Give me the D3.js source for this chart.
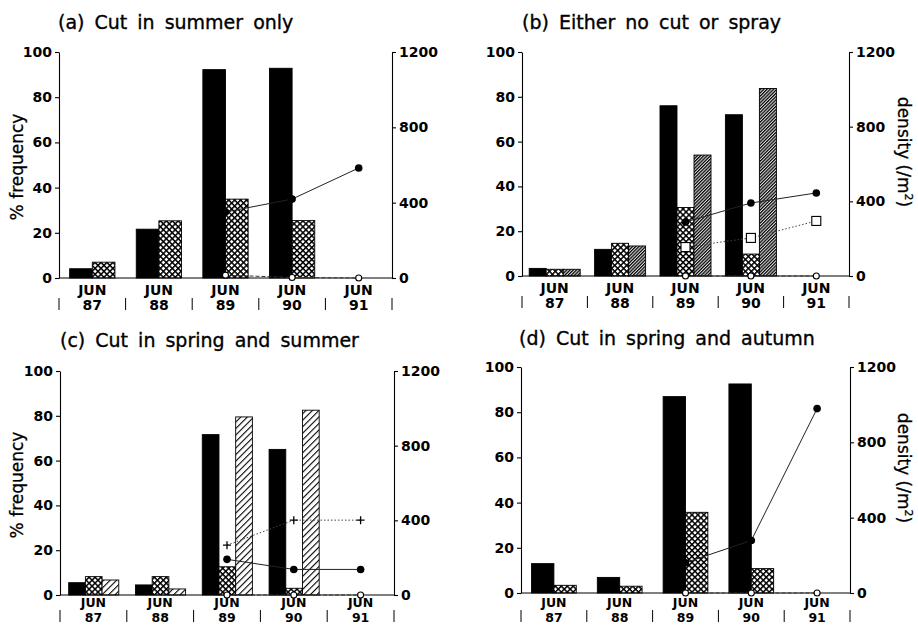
<!DOCTYPE html>
<html><head><meta charset="utf-8">
<script src="https://cdn.jsdelivr.net/npm/d3@7"></script>
<style>
html,body{margin:0;padding:0;background:#fff;}
svg{display:block;}
text{font-family:"DejaVu Sans",sans-serif;fill:#000;}
</style></head>
<body>
<svg id="chart" width="918" height="627"></svg>
<script>
// ---------- data ----------
const years = ["87","88","89","90","91"];
const monthLabel = "JUN";
const freqTicks = [0,20,40,60,80,100];
const densTicks = [0,400,800,1200];

const titles = ["(a) Cut in summer only","(b) Either no cut or spray","(c) Cut in spring and summer","(d) Cut in spring and autumn"];
const leftLabel = "% frequency";
const rightLabel = "density (/m";

// (a)
const aBlack = [4.1, 21.6, 92.2, 92.8, null];
const aCross = [7.0, 25.3, 34.9, 25.4, null];
const aDensFilled = [null, null, 350, 419, 584];
const aDensOpen = [null, null, 15, 3, 0];
// (b)
const bBlack = [3.4, 11.9, 76.0, 72.0, null];
const bCross = [3.0, 14.6, 30.6, 9.8, null];
const bHatch = [3.0, 13.4, 54.0, 83.7, null];
const bDensFilled = [null, null, 289, 391, 445];
const bDensSquare = [null, null, 155, 204, 295];
const bDensOpen = [null, null, 0, 0, 0];
// (c)
const cBlack = [5.5, 4.5, 71.6, 65.0, null];
const cCross = [8.2, 8.2, 12.6, 3.0, null];
const cHatch = [6.7, 2.7, 79.5, 82.5, null];
const cDensFilled = [null, null, 191, 137, 137];
const cDensPlus = [null, null, 267, 401, 401];
const cDensOpen = [null, null, 0, 0, 0];
// (d)
const dBlack = [13.0, 6.9, 86.9, 92.5, null];
const dCross = [3.4, 3.0, 35.7, 10.8, null];
const dDensFilled = [null, null, 161, 279, 979];
const dDensOpen = [null, null, 0, 0, 0];

// ---------- layout ----------
const svg = d3.select("#chart");
svg.append("rect").attr("width",918).attr("height",627).attr("fill","#fff");

const defs = svg.append("defs");
const pc = defs.append("pattern").attr("id","cross").attr("patternUnits","userSpaceOnUse")
  .attr("width",4.2).attr("height",4.2).attr("patternTransform","rotate(45)");
pc.append("rect").attr("width",4.2).attr("height",4.2).attr("fill","#fff");
pc.append("rect").attr("width",1.5).attr("height",4.2).attr("fill","#000");
pc.append("rect").attr("width",4.2).attr("height",1.5).attr("fill","#000");
const pd = defs.append("pattern").attr("id","hatchDense").attr("patternUnits","userSpaceOnUse")
  .attr("width",2.3).attr("height",2.3).attr("patternTransform","rotate(45)");
pd.append("rect").attr("width",2.3).attr("height",2.3).attr("fill","#d8d8d8");
pd.append("rect").attr("width",1.2).attr("height",2.3).attr("fill","#000");
const ps = defs.append("pattern").attr("id","hatchSparse").attr("patternUnits","userSpaceOnUse")
  .attr("width",4.6).attr("height",4.6).attr("patternTransform","rotate(45)");
ps.append("rect").attr("width",4.6).attr("height",4.6).attr("fill","#fff");
ps.append("rect").attr("width",1.1).attr("height",4.6).attr("fill","#000");

const fills = {black:"#000", cross:"url(#cross)", hatchDense:"url(#hatchDense)", hatchSparse:"url(#hatchSparse)"};

const panels = [
  {title:titles[0], box:{l:59,r:392,t:52,b:278}, titleX:58, titleY:29, leftLab:true, rightLab:false,
   bars:[["black",aBlack],["cross",aCross]], inner:[0.16,0.84],
   lines:[{v:aDensFilled,type:"filled"},{v:aDensOpen,type:"open"}]},
  {title:titles[1], box:{l:522,r:849,t:52,b:276}, titleX:522, titleY:29, leftLab:false, rightLab:true,
   bars:[["black",bBlack],["cross",bCross],["hatchDense",bHatch]], inner:[0.11,0.89],
   lines:[{v:bDensFilled,type:"filled"},{v:bDensSquare,type:"square"},{v:bDensOpen,type:"open"}]},
  {title:titles[2], box:{l:60,r:394,t:371,b:595}, titleX:60, titleY:347, leftLab:true, rightLab:false,
   bars:[["black",cBlack],["cross",cCross],["hatchSparse",cHatch]], inner:[0.13,0.88],
   lines:[{v:cDensFilled,type:"filled"},{v:cDensPlus,type:"plus"},{v:cDensOpen,type:"open"}]},
  {title:titles[3], box:{l:521,r:850,t:367,b:593}, titleX:519, titleY:345, leftLab:false, rightLab:true,
   bars:[["black",dBlack],["cross",dCross]], inner:[0.16,0.84],
   lines:[{v:dDensFilled,type:"filled"},{v:dDensOpen,type:"open"}]}
];

panels.forEach(p => {
  const B = p.box;
  const g = svg.append("g");
  const x = d3.scaleBand().domain(years).range([B.l,B.r]).padding(0);
  const bw = x.bandwidth();
  const keys = p.bars.map(d=>d[0]);
  const xi = d3.scaleBand().domain(keys).range([bw*p.inner[0], bw*p.inner[1]]).padding(0);
  const yL = d3.scaleLinear().domain([0,100]).range([B.b,B.t]);
  const yR = d3.scaleLinear().domain([0,1200]).range([B.b,B.t]);

  g.append("text").attr("x",p.titleX).attr("y",p.titleY).attr("font-size",19)
    .attr("word-spacing",4).attr("stroke","#000").attr("stroke-width",0.35).text(p.title);

  p.bars.forEach(([k,vals]) => {
    g.append("g").selectAll("rect").data(years.map((yr,i)=>({yr,v:vals[i]})).filter(d=>d.v!=null))
      .join("rect")
      .attr("x",d=>x(d.yr)+xi(k)).attr("width",xi.bandwidth())
      .attr("y",d=>yL(d.v)).attr("height",d=>yL(0)-yL(d.v))
      .attr("fill",fills[k]).attr("stroke","#000").attr("stroke-width",0.9);
  });

  g.append("line").attr("x1",B.l).attr("x2",B.r).attr("y1",B.b).attr("y2",B.b)
    .attr("stroke","#000").attr("stroke-width",1);

  const fmt = d3.format("d");
  const axL = d3.axisLeft(yL).tickValues(freqTicks).tickFormat(fmt).tickSize(4).tickSizeOuter(0).tickPadding(3);
  const gL = g.append("g").attr("transform",`translate(${B.l},0)`).call(axL);
  const axR = d3.axisRight(yR).tickValues(densTicks).tickFormat(fmt).tickSize(4).tickSizeOuter(0).tickPadding(3);
  const gR = g.append("g").attr("transform",`translate(${B.r},0)`).call(axR);
  [gL,gR].forEach(a=>{
    a.selectAll("path.domain").attr("stroke","#000").attr("stroke-width",1.1);
    a.selectAll(".tick line").attr("stroke","#000").attr("stroke-width",1.1);
    a.selectAll(".tick text").attr("font-family","DejaVu Sans").attr("font-weight","bold")
      .attr("font-size",14).attr("fill","#000");
  });

  const xl = g.append("g");
  const bottomRow = B.b > 500;
  const mBase = bottomRow ? Math.min(B.b+14, 607) : B.b+17;
  const yrBase = bottomRow ? 622 : B.b+32;
  const xfs = bottomRow ? 12.5 : 14;
  xl.selectAll("text.m").data(years).join("text").attr("class","m")
    .attr("x",d=>x(d)+bw/2).attr("y",mBase).attr("text-anchor","middle")
    .attr("font-size",xfs).attr("font-weight","bold").text(monthLabel);
  xl.selectAll("text.yr").data(years).join("text").attr("class","yr")
    .attr("x",d=>x(d)+bw/2).attr("y",yrBase).attr("text-anchor","middle")
    .attr("font-size",xfs).attr("font-weight","bold").text(d=>d);
  const seps = years.map(d=>x(d)).concat([B.r]);
  xl.selectAll("line").data(seps).join("line")
    .attr("x1",d=>d).attr("x2",d=>d).attr("y1",mBase+3).attr("y2",yrBase)
    .attr("stroke","#000").attr("stroke-width",1);

  const cx = yr => x(yr)+bw/2;
  p.lines.forEach(L => {
    const pts = years.map((yr,i)=>({yr,v:L.v[i]})).filter(d=>d.v!=null);
    const line = d3.line().x(d=>cx(d.yr)).y(d=>yR(d.v));
    const path = g.append("path").attr("d",line(pts)).attr("fill","none");
    if (L.type==="filled") path.attr("stroke","#222").attr("stroke-width",1);
    else if (L.type==="open") path.attr("stroke","#333").attr("stroke-width",1).attr("stroke-dasharray","4,2");
    else path.attr("stroke","#444").attr("stroke-width",1).attr("stroke-dasharray","1.5,2");
    const mk = g.append("g").selectAll("g").data(pts).join("g")
      .attr("transform",d=>`translate(${cx(d.yr)},${yR(d.v)})`);
    if (L.type==="filled") mk.append("circle").attr("r",3.8).attr("fill","#000");
    else if (L.type==="open") mk.append("circle").attr("r",3).attr("fill","#fff").attr("stroke","#000").attr("stroke-width",1.1);
    else if (L.type==="square") mk.append("rect").attr("x",-4.5).attr("y",-4.5).attr("width",9).attr("height",9)
      .attr("fill","#fff").attr("stroke","#000").attr("stroke-width",1.1);
    else if (L.type==="plus") mk.append("path").attr("d","M-4,0H4M0,-4V4").attr("stroke","#000").attr("stroke-width",1.3);
  });

  const cy = (B.t+B.b)/2;
  if (p.leftLab) {
    g.append("text").attr("transform",`translate(23,${cy+2}) rotate(-90)`).attr("text-anchor","middle")
      .attr("font-size",17).attr("stroke","#000").attr("stroke-width",0.3).text(leftLabel);
  }
  if (p.rightLab) {
    const t = g.append("text").attr("transform",`translate(898,${cy-12}) rotate(90)`).attr("text-anchor","middle")
      .attr("font-size",17).attr("stroke","#000").attr("stroke-width",0.3);
    t.append("tspan").text(rightLabel);
    t.append("tspan").attr("font-size",11).attr("dy",-7).text("2");
    t.append("tspan").attr("dy",7).text(")");
  }
});
</script>
</body></html>
